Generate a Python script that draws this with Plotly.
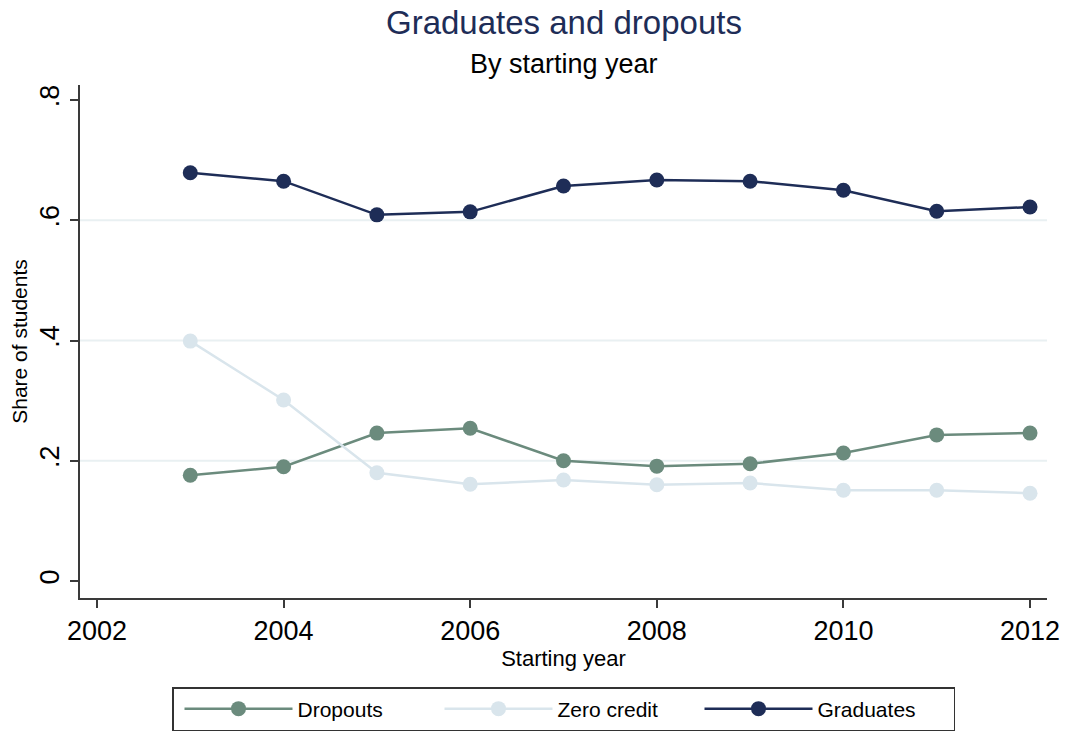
import plotly.graph_objects as go

# Cohort shares by starting year
years = [2003, 2004, 2005, 2006, 2007, 2008, 2009, 2010, 2011, 2012]
dropouts = [0.176, 0.190, 0.246, 0.254, 0.200, 0.191, 0.195, 0.213, 0.243, 0.246]
zero_credit = [0.399, 0.301, 0.180, 0.161, 0.168, 0.160, 0.163, 0.151, 0.151, 0.146]
graduates = [0.679, 0.665, 0.609, 0.614, 0.657, 0.667, 0.665, 0.650, 0.615, 0.622]

y_tick_vals = [0, 0.2, 0.4, 0.6, 0.8]
y_tick_text = ["0", ".2", ".4", ".6", ".8"]
x_tick_vals = [2002, 2004, 2006, 2008, 2010, 2012]
grid_vals = [0.2, 0.4, 0.6]

FONT = "Arial, Liberation Sans, sans-serif"
C_DROP = "#6b8b7d"
C_ZERO = "#d9e5ec"
C_GRAD = "#1e2d57"
AXIS = "#3a3a3a"

fig = go.Figure()
for name, vals, col in [("Dropouts", dropouts, C_DROP),
                        ("Zero credit", zero_credit, C_ZERO),
                        ("Graduates", graduates, C_GRAD)]:
    fig.add_trace(go.Scatter(
        x=years, y=vals, name=name, mode="lines+markers",
        line=dict(color=col, width=2.5),
        marker=dict(color=col, size=15),
    ))

# light horizontal grid lines at the inner ticks only
for g in grid_vals:
    fig.add_shape(type="line", xref="paper", x0=0, x1=1, yref="y", y0=g, y1=g,
                  line=dict(color="#e9f0f2", width=2), layer="below")

fig.update_layout(
    width=1074, height=733,
    margin=dict(l=80, r=27, t=85, b=135, autoexpand=False),
    paper_bgcolor="white", plot_bgcolor="white",
    font=dict(family=FONT, color="black"),
    showlegend=True,
    legend=dict(
        orientation="h", x=0.5, xanchor="center", y=-0.1735, yanchor="top",
        bordercolor="#333333", borderwidth=1.5,
        font=dict(size=21, family=FONT, color="black"),
        entrywidth=131, itemwidth=108, indentation=6,
    ),
    annotations=[
        dict(text="Graduates and dropouts", xref="paper", yref="paper",
             x=0.5, y=1, xanchor="center", yanchor="middle",
             yshift=85 - 22, showarrow=False,
             font=dict(size=33, color=C_GRAD, family=FONT)),
        dict(text="By starting year", xref="paper", yref="paper",
             x=0.5, y=1, xanchor="center", yanchor="middle",
             yshift=85 - 64, showarrow=False,
             font=dict(size=27, color="black", family=FONT)),
    ],
)

fig.update_xaxes(
    range=[2001.818, 2012.182], tickvals=x_tick_vals,
    showline=True, linecolor=AXIS, linewidth=2, mirror=False,
    ticks="outside", ticklen=8, tickwidth=1.5, tickcolor=AXIS,
    showgrid=False, zeroline=False,
    tickfont=dict(size=27, family=FONT, color="black"),
    title=dict(text="Starting year", font=dict(size=22, family=FONT, color="black"), standoff=5),
)
fig.update_yaxes(
    range=[-0.0283, 0.825], tickvals=y_tick_vals, ticktext=y_tick_text,
    tickangle=-90,
    showline=True, linecolor=AXIS, linewidth=2, mirror=False,
    ticks="outside", ticklen=8, tickwidth=1.5, tickcolor=AXIS,
    showgrid=False, zeroline=False,
    tickfont=dict(size=27, family=FONT, color="black"),
    title=dict(text="Share of students", font=dict(size=21, family=FONT, color="black"), standoff=2),
)

fig.write_html("out.html")
